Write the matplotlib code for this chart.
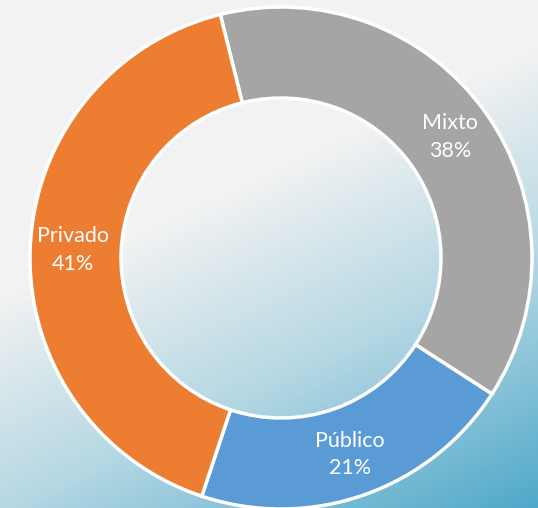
import numpy as np
import matplotlib
matplotlib.use('Agg')
import matplotlib.pyplot as plt
from matplotlib.colors import LinearSegmentedColormap

# Chart data
categories = ['Mixto', 'Público', 'Privado']
shares = [38, 21, 41]
colors = ['#A5A5A5', '#5B9BD5', '#ED7D31']

W, H = 538, 508
fig = plt.figure(figsize=(W / 100, H / 100), dpi=100)
ax = fig.add_axes([0, 0, 1, 1])

# Diagonal background gradient (gray top-left -> blue bottom-right)
yy, xx = np.mgrid[0:H, 0:W]
s = 0.426 * xx + 0.905 * yy
t = np.clip((s - 270) / 430, 0, 1)
bg_cmap = LinearSegmentedColormap.from_list(
    'bg', [(0, '#f2f2f2'), (0.45, '#b4d7e3'), (1, '#4aa6c8')])
ax.imshow(t, cmap=bg_cmap, vmin=0, vmax=1, extent=[0, W, 0, H],
          origin='upper', zorder=0)

# Donut
cx, cy, r = 281, H - 258, 251
wedges, _ = ax.pie(shares, colors=colors, startangle=104, counterclock=False,
                   radius=r, center=(cx, cy),
                   wedgeprops=dict(width=r - 160, edgecolor='white', linewidth=2.5))

# Labels in the middle of the ring
for w, name, val in zip(wedges, categories, shares):
    ang = np.deg2rad((w.theta1 + w.theta2) / 2)
    rr = 208
    ax.text(cx + rr * np.cos(ang), cy + rr * np.sin(ang), f'{name}\n{val}%',
            ha='center', va='center', color='white', fontsize=15.5,
            family='Lato', linespacing=1.45)

ax.set_xlim(0, W)
ax.set_ylim(0, H)
ax.set_aspect('equal')
ax.axis('off')

fig.savefig('out.png', dpi=100)
